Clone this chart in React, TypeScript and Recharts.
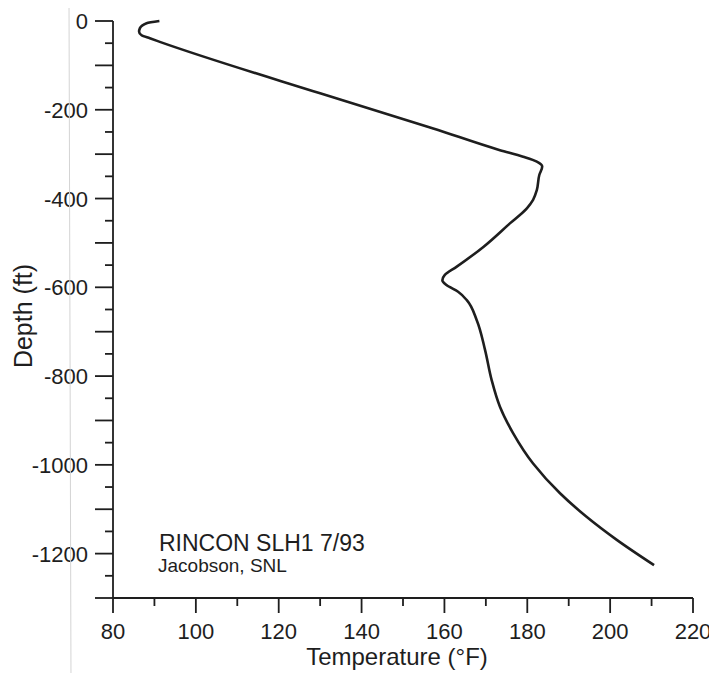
import React from 'react'
import { ScatterChart, Scatter, XAxis, YAxis } from 'recharts'

// Temperature log
const depthFt = [
  0, -5, -16, -24, -32, -39, -47, -163, -242, -291, -306, -317, -328,
  -347, -381, -403, -422, -456, -509, -554, -572, -584, -595, -610, -629,
  -674, -741, -809, -869, -929, -997, -1064, -1117, -1169, -1226,
]
const tempF = [
  91.2, 88.1, 86.5, 86.3, 86.9, 88.9, 91.3, 130, 157.3, 173.4, 179, 182.3, 183.6,
  182.9, 182.3, 181.4, 179.9, 175.8, 169.4, 162.9, 160.1, 159.5, 160.5, 163.3, 165.4,
  167.8, 169.8, 171.4, 173.4, 176.6, 181.4, 187.9, 194.3, 201.6, 210.6,
]

// axis ticks (minor ticks included, labels only on some)
const depthTicks = [
  0, -50, -100, -150, -200, -250, -300, -350, -400, -450, -500, -550, -600, -650,
  -700, -750, -800, -850, -900, -950, -1000, -1050, -1100, -1150, -1200, -1250, -1300,
]
const tempTicks = [80, 90, 100, 110, 120, 130, 140, 150, 160, 170, 180, 190, 200, 210, 220]

const rows = depthFt.map((d, i) => ({ depth: d, temp: tempF[i] }))

const INK = '#1e1e1e'
const FONT = '"Liberation Sans", Arial, Helvetica, sans-serif'

const DepthTick = (props: any) => {
  const { x, y, payload } = props
  const v = payload.value
  const len = v % 100 === 0 ? 18 : 8
  return (
    <g>
      <line x1={x - len} x2={x} y1={y} y2={y} stroke={INK} strokeWidth={1.8} />
      {v % 200 === 0 && (
        <text x={x - 25} y={y + 8} textAnchor="end" fontSize={22} fontFamily={FONT} fill={INK}>
          {v}
        </text>
      )}
    </g>
  )
}

const TempTick = (props: any) => {
  const { x, y, payload } = props
  const v = payload.value
  const len = v % 20 === 0 ? 15 : 8
  return (
    <g>
      <line x1={x} x2={x} y1={y} y2={y + len} stroke={INK} strokeWidth={1.8} />
      {v % 20 === 0 && (
        <text x={x} y={y + 41} textAnchor="middle" fontSize={22} fontFamily={FONT} fill={INK}>
          {v}
        </text>
      )}
    </g>
  )
}

const noDot = () => <g />

export default function App() {
  return (
    <div style={{ position: 'relative', width: 709, height: 665, background: '#fff' }}>
      <ScatterChart width={709} height={665} margin={{ top: 13, right: 24, bottom: 15, left: 5 }}>
        <XAxis
          type="number"
          dataKey="temp"
          domain={[80, 220]}
          ticks={tempTicks}
          interval={0}
          height={60}
          tickSize={0}
          tickMargin={0}
          tickLine={false}
          axisLine={{ stroke: INK, strokeWidth: 1.8 }}
          tick={<TempTick />}
        />
        <YAxis
          type="number"
          dataKey="depth"
          domain={[-1300, 0]}
          ticks={depthTicks}
          interval={0}
          width={100}
          tickSize={0}
          tickMargin={0}
          tickLine={false}
          axisLine={{ stroke: INK, strokeWidth: 1.8 }}
          tick={<DepthTick />}
        />
        <Scatter
          data={rows}
          fill={INK}
          line={{ stroke: INK, strokeWidth: 2.6 }}
          lineType="joint"
          lineJointType="monotoneY"
          shape={noDot}
          isAnimationActive={false}
        />
      </ScatterChart>
      <svg
        width={709}
        height={665}
        style={{ position: 'absolute', left: 0, top: 0, pointerEvents: 'none', overflow: 'visible' }}
      >
        <line x1={61} y1={-8} x2={63} y2={673} stroke="#d4d4d4" strokeWidth={1} />
        <text
          x={24}
          y={308}
          transform="rotate(-90 24 308)"
          textAnchor="middle"
          fontSize={25}
          fontFamily={FONT}
          fill={INK}
        >
          Depth (ft)
        </text>
        <text x={389} y={657} textAnchor="middle" fontSize={24} fontFamily={FONT} fill={INK}>
          Temperature (°F)
        </text>
        <text x={151} y={543} fontSize={23} fontFamily={FONT} fill={INK}>
          RINCON SLH1 7/93
        </text>
        <text x={150} y={564} fontSize={19} fontFamily={FONT} fill={INK}>
          Jacobson, SNL
        </text>
      </svg>
    </div>
  )
}
